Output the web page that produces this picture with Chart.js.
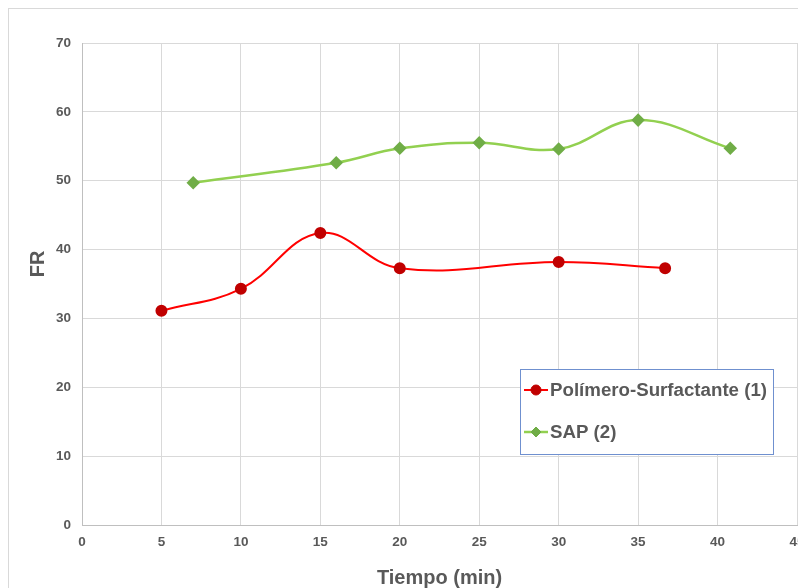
<!DOCTYPE html>
<html><head><meta charset="utf-8">
<script src="https://cdn.jsdelivr.net/npm/chart.js@4/dist/chart.umd.min.js"></script>
<style>
html,body{margin:0;padding:0;background:#fff;overflow:hidden;width:798px;height:588px;}
#frame{position:absolute;left:8px;top:8px;width:900px;height:700px;border:1px solid #d9d9d9;box-sizing:border-box;}
#c{position:absolute;left:0;top:0;}
</style></head>
<body>
<div id="frame"></div>
<canvas id="c" width="830" height="600"></canvas>
<script>
const xTicksMax = 45;
const yTicksMax = 70;
const polyX = [5, 10, 15, 20, 30, 36.7];
const polyY = [31.1, 34.3, 42.4, 37.3, 38.2, 37.3];
const sapX = [7, 16, 20, 25, 30, 35, 40.8];
const sapY = [49.7, 52.6, 54.7, 55.5, 54.6, 58.8, 54.7];
const seriesNames = ["Polímero-Surfactante (1)", "SAP (2)"];
const xTitle = "Tiempo (min)";
const yTitle = "FR";

const toPts = (xs, ys) => xs.map((x, i) => ({x: x, y: ys[i]}));
const txt = '#595959';
const font = 'Arial, "Liberation Sans", sans-serif';

const yTitlePlugin = {
  id: 'yTitle',
  afterDraw(chart) {
    const ctx = chart.ctx;
    ctx.save();
    ctx.translate(38, 264);
    ctx.rotate(-Math.PI / 2);
    ctx.fillStyle = txt;
    ctx.font = 'bold 20px ' + font;
    ctx.textAlign = 'center';
    ctx.textBaseline = 'middle';
    ctx.fillText(yTitle, 0, 0);
    ctx.restore();
  }
};

const legendPlugin = {
  id: 'boxLegend',
  afterDraw(chart) {
    const ctx = chart.ctx;
    const x0 = 520, y0 = 369, w = 253, h = 85;
    ctx.save();
    ctx.fillStyle = '#fff';
    ctx.fillRect(x0, y0, w, h);
    ctx.strokeStyle = '#6f90cf';
    ctx.lineWidth = 1;
    ctx.strokeRect(x0 + 0.5, y0 + 0.5, w, h);
    const rows = [390, 432];
    chart.data.datasets.forEach((ds, i) => {
      const cy = rows[i];
      ctx.strokeStyle = ds.borderColor;
      ctx.lineWidth = ds.borderWidth;
      ctx.beginPath(); ctx.moveTo(524, cy); ctx.lineTo(548, cy); ctx.stroke();
      ctx.fillStyle = ds.pointBackgroundColor;
      ctx.strokeStyle = ds.pointBorderColor;
      ctx.lineWidth = 1;
      Chart.helpers.drawPoint(ctx, {pointStyle: ds.pointStyle, radius: ds.pointRadius, rotation: 0, borderWidth: 1}, 536, cy);
      ctx.fillStyle = txt;
      ctx.font = 'bold 18.7px ' + font;
      ctx.textBaseline = 'middle';
      ctx.textAlign = 'left';
      ctx.fillText(ds.label, 550, cy + 1);
    });
    ctx.restore();
  }
};

new Chart(document.getElementById('c'), {
  type: 'line',
  data: {
    datasets: [
      {label: seriesNames[0], data: toPts(polyX, polyY), borderColor: '#ff0000', borderWidth: 2,
       pointStyle: 'circle', pointRadius: 5, pointBackgroundColor: '#c00000', pointBorderColor: '#c00000',
       tension: 0.4, fill: false},
      {label: seriesNames[1], data: toPts(sapX, sapY), borderColor: '#92d050', borderWidth: 2.5,
       pointStyle: 'rectRot', pointRadius: 5, pointBackgroundColor: '#70ad47', pointBorderColor: '#70ad47',
       tension: 0.4, fill: false}
    ]
  },
  options: {
    responsive: false, devicePixelRatio: 1, animation: false,
    layout: {padding: {top: 43, right: 33, left: 0, bottom: 0}},
    plugins: {legend: {display: false}, tooltip: {enabled: false}},
    scales: {
      x: {
        type: 'linear', min: 0, max: xTicksMax,
        ticks: {stepSize: 5, color: txt, font: {family: font, size: 13.5, weight: 'bold'}, padding: 9, maxRotation: 0},
        grid: {color: '#d9d9d9', drawTicks: false},
        border: {color: '#bfbfbf'},
        title: {display: true, text: xTitle, color: txt, font: {family: font, size: 20, weight: 'bold'}, padding: {top: 4, bottom: 10}},
        afterFit(s) { s.height = 75; }
      },
      y: {
        min: 0, max: yTicksMax,
        ticks: {stepSize: 10, color: txt, font: {family: font, size: 13.5, weight: 'bold'}, padding: 11},
        grid: {color: '#d9d9d9', drawTicks: false},
        border: {color: '#bfbfbf'},
        title: {display: false},
        afterFit(s) { s.width = 82; }
      }
    }
  },
  plugins: [yTitlePlugin, legendPlugin]
});
</script>
</body></html>
